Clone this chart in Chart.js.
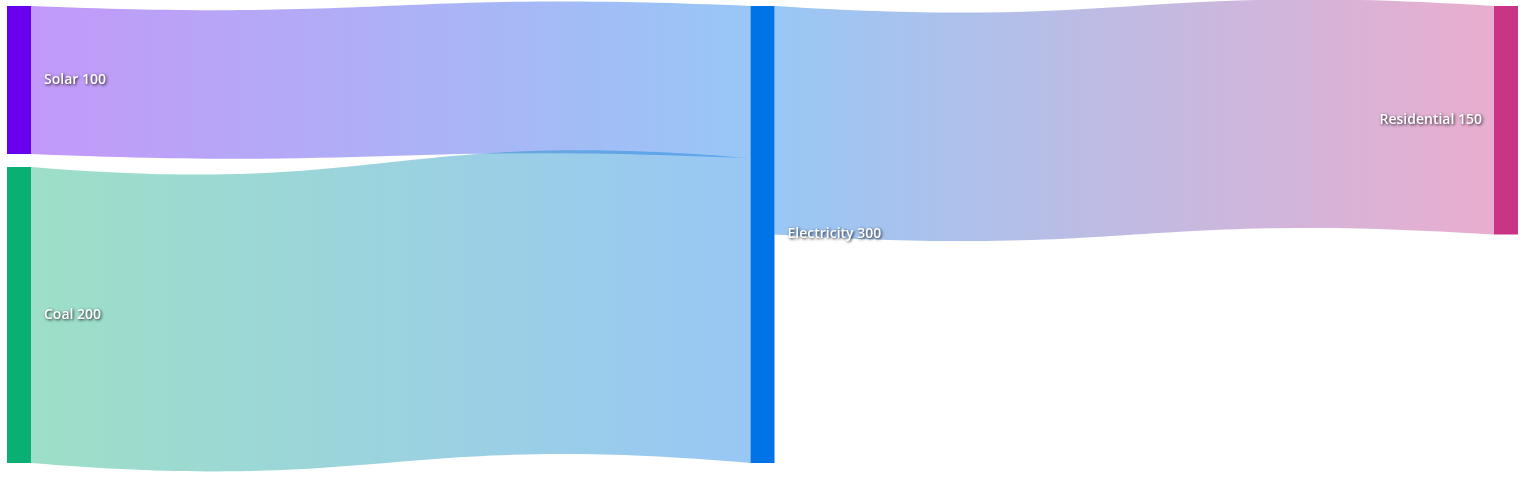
<!DOCTYPE html>
<html>
<head>
<meta charset="utf-8">
<script src="https://cdn.jsdelivr.net/npm/chart.js@4.4.1/dist/chart.umd.min.js"></script>
<style>
  html, body { margin: 0; padding: 0; background: #fff; }
  #wrap { width: 1527px; height: 478px; position: relative; }
</style>
</head>
<body>
<div id="wrap"><canvas id="sankey"></canvas></div>
<script>
// nodes
const nodeNames = ['Solar', 'Coal', 'Electricity', 'Residential']
const nodeColumns = [0, 0, 1, 2]
const nodeColors = ['#6800ee', '#0aaf73', '#0073e6', '#c93487']

// flows
const flowFrom = ['Solar', 'Coal', 'Electricity']
const flowTo = ['Electricity', 'Electricity', 'Residential']
const flowValues = [100, 200, 150]

const NODE_WIDTH = 24
const NODE_PAD = 13     // px between nodes in one column
const WAVE = 0.1        // bend of the flow edges, share of flow height
const FLOW_ALPHA = 0.4

function rgba(hex, a) {
    const n = parseInt(hex.slice(1), 16)
    return `rgba(${(n >> 16) & 255}, ${(n >> 8) & 255}, ${n & 255}, ${a})`
}

// node values = max(in, out)
const nodeValues = nodeNames.map(name => {
    let inn = 0, out = 0
    flowValues.forEach((v, i) => {
        if (flowTo[i] === name) inn += v
        if (flowFrom[i] === name) out += v
    })
    return Math.max(inn, out)
})

const columnCount = Math.max(...nodeColumns) + 1
const yMax = Math.max(...Array.from({length: columnCount}, (_, c) =>
    nodeValues.reduce((s, v, i) => s + (nodeColumns[i] === c ? v : 0), 0)))

const sankeyPlugin = {
    id: 'sankey',
    afterDatasetsDraw(chart) {
        const ctx = chart.ctx
        const xs = chart.scales.x
        const ys = chart.scales.y
        const pxPerUnit = Math.abs(ys.getPixelForValue(1) - ys.getPixelForValue(0))
        const pad = NODE_PAD / pxPerUnit

        // stack nodes per column (in value units)
        const nodeY = [], nodeH = [], factor = []
        for (let c = 0; c < columnCount; c++) {
            const idx = nodeColumns.map((col, i) => col === c ? i : -1).filter(i => i >= 0)
            const sum = idx.reduce((s, i) => s + nodeValues[i], 0)
            const total = sum + pad * (idx.length - 1)
            const f = total > yMax ? (yMax - pad * (idx.length - 1)) / sum : 1
            let y = 0
            idx.forEach(i => {
                nodeY[i] = y
                nodeH[i] = nodeValues[i] * f
                factor[i] = f
                y += nodeH[i] + pad
            })
        }

        // flows
        const outOff = nodeNames.map(() => 0)
        const inOff = nodeNames.map(() => 0)
        flowValues.forEach((v, i) => {
            const s = nodeNames.indexOf(flowFrom[i])
            const t = nodeNames.indexOf(flowTo[i])
            const hs = v * factor[s], ht = v * factor[t]
            const ya0 = ys.getPixelForValue(nodeY[s] + outOff[s])
            const ya1 = ys.getPixelForValue(nodeY[s] + outOff[s] + hs)
            const yb0 = ys.getPixelForValue(nodeY[t] + inOff[t])
            const yb1 = ys.getPixelForValue(nodeY[t] + inOff[t] + ht)
            outOff[s] += hs
            inOff[t] += ht
            const x0 = xs.getPixelForValue(nodeColumns[s]) + NODE_WIDTH
            const x1 = xs.getPixelForValue(nodeColumns[t])
            const xm = (x0 + x1) / 2
            const d0 = WAVE * (ya1 - ya0), d1 = WAVE * (yb1 - yb0)

            const grad = ctx.createLinearGradient(x0, 0, x1, 0)
            grad.addColorStop(0, rgba(nodeColors[s], FLOW_ALPHA))
            grad.addColorStop(1, rgba(nodeColors[t], FLOW_ALPHA))
            ctx.save()
            ctx.fillStyle = grad
            ctx.beginPath()
            ctx.moveTo(x0, ya0)
            ctx.bezierCurveTo(xm, ya0 + d0, xm, yb0 - d1, x1, yb0)
            ctx.lineTo(x1, yb1)
            ctx.bezierCurveTo(xm, yb1 - d1, xm, ya1 + d0, x0, ya1)
            ctx.closePath()
            ctx.fill()
            ctx.restore()
        })

        // nodes
        nodeNames.forEach((name, i) => {
            const x = xs.getPixelForValue(nodeColumns[i])
            const y0 = ys.getPixelForValue(nodeY[i])
            const y1 = ys.getPixelForValue(nodeY[i] + nodeH[i])
            ctx.fillStyle = nodeColors[i]
            ctx.fillRect(x, y0, NODE_WIDTH, y1 - y0)
        })

        // labels
        ctx.save()
        ctx.font = '600 14px "Open Sans", sans-serif'
        ctx.textBaseline = 'middle'
        ctx.fillStyle = '#ffffff'
        ctx.shadowColor = 'rgba(0, 0, 0, 0.85)'
        ctx.shadowBlur = 3
        ctx.shadowOffsetX = 1
        ctx.shadowOffsetY = 1
        nodeNames.forEach((name, i) => {
            const x = xs.getPixelForValue(nodeColumns[i])
            const yc = ys.getPixelForValue(nodeY[i] + nodeH[i] / 2)
            const text = `${name} ${nodeValues[i]}`
            if (nodeColumns[i] === columnCount - 1) {
                ctx.textAlign = 'right'
                ctx.fillText(text, x - 12, yc)
            } else {
                ctx.textAlign = 'left'
                ctx.fillText(text, x + NODE_WIDTH + 13, yc)
            }
        })
        ctx.restore()
    }
}

new Chart('sankey', {
    type: 'scatter',
    data: { datasets: [{ data: [] }] },
    options: {
        responsive: true,
        maintainAspectRatio: false,
        animation: false,
        layout: { padding: { top: 6, bottom: 15, left: 7, right: 9 + NODE_WIDTH } },
        scales: {
            x: { type: 'linear', min: 0, max: columnCount - 1, display: false },
            y: { type: 'linear', min: 0, max: yMax, reverse: true, display: false }
        },
        plugins: { legend: { display: false }, tooltip: { enabled: false } }
    },
    plugins: [sankeyPlugin]
})
</script>
</body>
</html>
